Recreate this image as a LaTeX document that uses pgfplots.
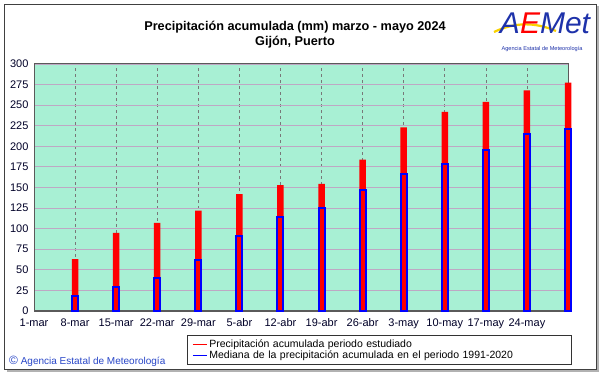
\documentclass[border=0pt]{standalone}
\usepackage{pgfplots}
\pgfplotsset{compat=1.18}
\usepackage{fontspec}
\setmainfont{Liberation Sans}
\definecolor{bgmint}{RGB}{168,240,212}
\definecolor{hgrid}{RGB}{190,168,196}
\definecolor{vgrid}{RGB}{120,120,120}
\definecolor{framegray}{RGB}{90,90,90}
\definecolor{ticknavy}{RGB}{0,0,40}
\definecolor{cblue}{RGB}{40,70,200}
\definecolor{aeblue}{RGB}{30,50,170}
\definecolor{aeyellow}{RGB}{250,210,0}
\begin{document}
\begin{tikzpicture}[x=1pt,y=1pt]
\useasboundingbox (0,0) rectangle (601,374);
\fill[white] (0,0) rectangle (601,374);
\draw[gray!60, line width=2pt] (7,3) -- (598,3) -- (598,368);
\draw[black!75, line width=0.8pt] (4.5,5) rectangle (596.5,369.5);
% title
\node[font=\fontsize{12.7}{15}\selectfont\bfseries, align=center] at (295,339) {Precipitación acumulada (mm) marzo - mayo 2024\\Gijón, Puerto};
% logo
\draw[aeyellow, line width=2.2pt] (494,342) .. controls (515,352) and (535,352) .. (556,343);
\node[font=\fontsize{30}{30}\selectfont\itshape, anchor=base] at (545,340) {\textcolor{aeblue}{A}\textcolor{red}{E}\textcolor{aeblue}{Met}};
\node[font=\fontsize{5.6}{6}\selectfont, text=aeblue] at (542,325) {Agencia Estatal de Meteorología};
% copyright
\node[anchor=west, font=\fontsize{10}{12}\selectfont, text=cblue, inner sep=0pt] at (9,13) {{\fontsize{12}{12}\selectfont ©} Agencia Estatal de Meteorología};
\begin{axis}[
  at={(34pt,63pt)}, anchor=south west,
  width=534pt, height=247pt, scale only axis,
  xmin=0, xmax=91, ymin=0, ymax=300,
  ytick={0,25,...,300},
  xtick={0,7,...,84},
  xticklabels={1-mar,8-mar,15-mar,22-mar,29-mar,5-abr,12-abr,19-abr,26-abr,3-may,10-may,17-may,24-may},
  /pgf/number format/assume math mode=true,
  tick label style={font=\fontsize{11}{13}\selectfont, text=ticknavy},
  major tick length=0pt,
  yticklabel style={xshift=-2pt},
  xticklabel style={yshift=-4pt},
  axis background/.style={fill=bgmint},
  xmajorgrids, ymajorgrids,
  x grid style={vgrid, dashed, line width=0.6pt},
  y grid style={hgrid, line width=0.9pt},
  axis line style={framegray, line width=1pt},
  clip=false,
  legend style={at={(0.2865,-0.098)}, anchor=north west, draw=black!80, line width=0.8pt,
    font=\fontsize{10.5}{12}\selectfont, row sep=-2pt, inner ysep=2pt, inner xsep=5pt,
    nodes={text width=355pt, align=left}},
  legend cell align=left,
]
\draw[framegray, line width=2pt] (axis cs:0,0) -- (axis cs:91,0);
\addplot[ybar, bar width=6.5pt, bar shift=0pt, fill=red, draw=none,
  legend image code/.code={\draw[red, line width=1pt] (0pt,0pt) -- (14pt,0pt);}]
  coordinates {(7,63) (14,95) (21,107) (28,122) (35,142) (42,153) (49,154.5) (56,184) (63,223) (70,242) (77,254) (84,268) (91,277.5)};
\addlegendentry{Precipitación acumulada periodo estudiado}
\addplot[ybar, bar width=6pt, bar shift=0pt, draw=blue, line width=2pt, fill=none,
  legend image code/.code={\draw[blue, line width=1pt] (0pt,0pt) -- (14pt,0pt);}]
  coordinates {(7,18) (14,29) (21,40) (28,62) (35,90.5) (42,114) (49,125) (56,147) (63,167) (70,178.5) (77,195.5) (84,215) (91,221)};
\addlegendentry{Mediana de la precipitación acumulada en el periodo 1991-2020}
\end{axis}
\end{tikzpicture}
\end{document}
